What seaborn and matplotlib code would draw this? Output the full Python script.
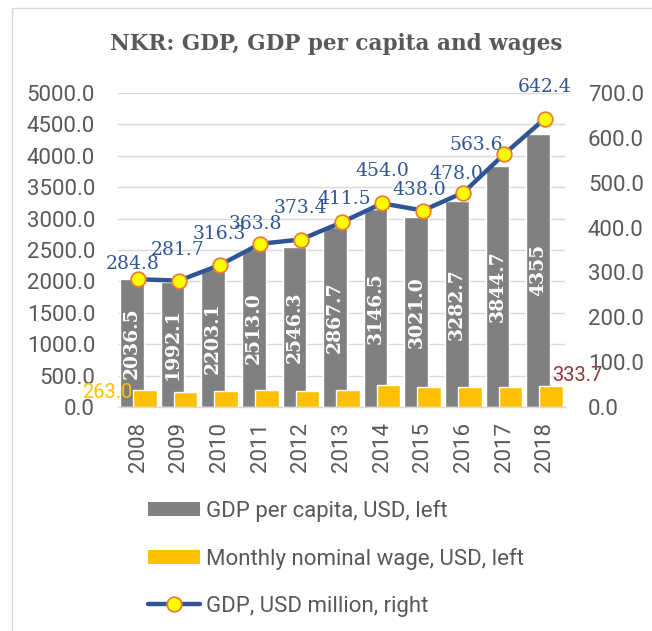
import numpy as np
import matplotlib
matplotlib.use("Agg")
import matplotlib.pyplot as plt
from matplotlib.lines import Line2D
from matplotlib.patches import Patch
import seaborn as sns

# ---- data ----
years = [2008, 2009, 2010, 2011, 2012, 2013, 2014, 2015, 2016, 2017, 2018]
gdp_per_capita = [2036.5, 1992.1, 2203.1, 2513.0, 2546.3, 2867.7, 3146.5, 3021.0, 3282.7, 3844.7, 4355]
gdp_pc_labels = ["2036.5", "1992.1", "2203.1", "2513.0", "2546.3", "2867.7",
                 "3146.5", "3021.0", "3282.7", "3844.7", "4355"]
monthly_wage = [263.0, 242, 247, 263, 252, 275, 344, 312, 318, 323, 333.7]
gdp_million = [284.8, 281.7, 316.3, 363.8, 373.4, 411.5, 454.0, 438.0, 478.0, 563.6, 642.4]
left_ticks = [0, 500, 1000, 1500, 2000, 2500, 3000, 3500, 4000, 4500, 5000]
right_ticks = [0, 100, 200, 300, 400, 500, 600, 700]

title = "NKR: GDP, GDP per capita and wages"
legend_labels = ["GDP per capita, USD, left", "Monthly nominal wage, USD, left",
                 "GDP, USD million, right"]

# label offsets for line labels (px: dx of centre, dy of bottom above marker)
line_label_offsets = [(-6, 6), (-1, 22), (0, 22), (-5, 11), (0, 23), (3, 14),
                      (0, 23), (-4, 12), (-7, 10), (-28, 0), (0, 23)]

# ---- style ----
sns.set_theme(style="white")
plt.rcParams["font.family"] = ["Roboto", "DejaVu Sans"]
TXT = "#595959"
GRID = "#D9D9D9"
GRAY = "#808080"
YEL = "#FFC000"
BLUE = "#2F5597"
PX = 0.72  # points per pixel at dpi 100

fig = plt.figure(figsize=(6.52, 6.31), dpi=100)
ax = fig.add_axes([118 / 652, 1 - 407 / 631, (565 - 118) / 652, (407 - 93) / 631])

off = 0.16
bw = 0.58
yrs = np.array(years, dtype=float)
sns.barplot(x=yrs - off, y=gdp_per_capita, native_scale=True, width=bw,
            color=GRAY, saturation=1, errorbar=None, ax=ax, zorder=2)
sns.barplot(x=yrs + off, y=monthly_wage, native_scale=True, width=bw,
            color=YEL, saturation=1, errorbar=None, ax=ax, zorder=2)

ax.set_xlim(2007.5, 2018.5)
ax.set_ylim(0, 5000)
ax.set_yticks(left_ticks)
ax.set_yticklabels([f"{t:.1f}" for t in left_ticks])
ax.set_xticks(years)
ax.set_xticklabels([str(y) for y in years], rotation=90)
ax.tick_params(axis="both", length=0, labelsize=16, colors=TXT)
ax.tick_params(axis="y", pad=16.5)
ax.tick_params(axis="x", pad=11)
ax.set_xlabel("")
ax.set_ylabel("")
ax.yaxis.grid(True, color=GRID, lw=1.0)
ax.set_axisbelow(True)
for s in ["top", "left", "right"]:
    ax.spines[s].set_visible(False)
ax.spines["bottom"].set_color(GRID)
ax.spines["bottom"].set_linewidth(1.0)

# bar labels
for y, v, lab in zip(years, gdp_per_capita, gdp_pc_labels):
    ax.text(y - off, v / 2, lab, rotation=90, ha="center", va="center",
            color="white", fontsize=13.5, fontweight="bold",
            family=["DejaVu Serif"], zorder=4)

# wage labels (first and last)
ax.annotate(f"{monthly_wage[0]:.1f}", xy=(years[0] + off - bw / 2, monthly_wage[0]),
            xytext=(-1 * PX, -2 * PX), textcoords="offset points",
            ha="right", va="center", color=YEL, fontsize=14.5)
ax.annotate(f"{monthly_wage[-1]:.1f}", xy=(years[-1] + off + bw / 2, monthly_wage[-1]),
            xytext=(-11 * PX, 11 * PX), textcoords="offset points",
            ha="left", va="center", color="#943634", fontsize=14.5)

# right axis line
ax2 = ax.twinx()
sns.lineplot(x=years, y=gdp_million, ax=ax2, color=BLUE, lw=3.2, marker="o",
             markersize=10.5, markerfacecolor="#FFFF00", markeredgecolor="#ED7D31",
             markeredgewidth=1.3, zorder=3)
ax2.set_ylim(0, 700)
ax2.set_yticks(right_ticks)
ax2.set_yticklabels([f"{t:.1f}" for t in right_ticks])
ax2.tick_params(axis="y", length=0, labelsize=16, colors=TXT, pad=16.5)
ax2.set_ylabel("")
for s in ax2.spines.values():
    s.set_visible(False)
ax2.set_xlim(2007.5, 2018.5)

for y, v, (dx, dy) in zip(years, gdp_million, line_label_offsets):
    ax2.annotate(f"{v:.1f}", xy=(y, v), xytext=(dx * PX, dy * PX),
                 textcoords="offset points", ha="center", va="bottom",
                 color=BLUE, fontsize=13.5, family=["DejaVu Serif"], zorder=1)

# title
fig.text(336 / 652, 1 - 44 / 631, title, ha="center", va="center",
         fontsize=15.5, fontweight="bold", color=TXT, family=["DejaVu Serif"])

# legend
handles = [Patch(facecolor=GRAY, edgecolor="none"),
           Patch(facecolor=YEL, edgecolor="none"),
           Line2D([0], [0], color=BLUE, lw=3.2, marker="o", markersize=10.5,
                  markerfacecolor="#FFFF00", markeredgecolor="#ED7D31",
                  markeredgewidth=1.3)]
leg = fig.legend(handles, legend_labels, loc="upper left",
                 bbox_to_anchor=(148 / 652, 1 - 500 / 631), frameon=False,
                 fontsize=16, labelcolor=TXT, handlelength=2.35, handleheight=0.63,
                 handletextpad=0.28, labelspacing=1.16, borderpad=0, borderaxespad=0)

# chart border (clipped at right/bottom like reference)
fig.add_artist(Line2D([12 / 652, 12 / 652], [0, 1 - 8 / 631], transform=fig.transFigure,
                      color=GRID, lw=1.0))
fig.add_artist(Line2D([12 / 652, 1], [1 - 8 / 631, 1 - 8 / 631], transform=fig.transFigure,
                      color=GRID, lw=1.0))

fig.savefig("out.png", dpi=100)
